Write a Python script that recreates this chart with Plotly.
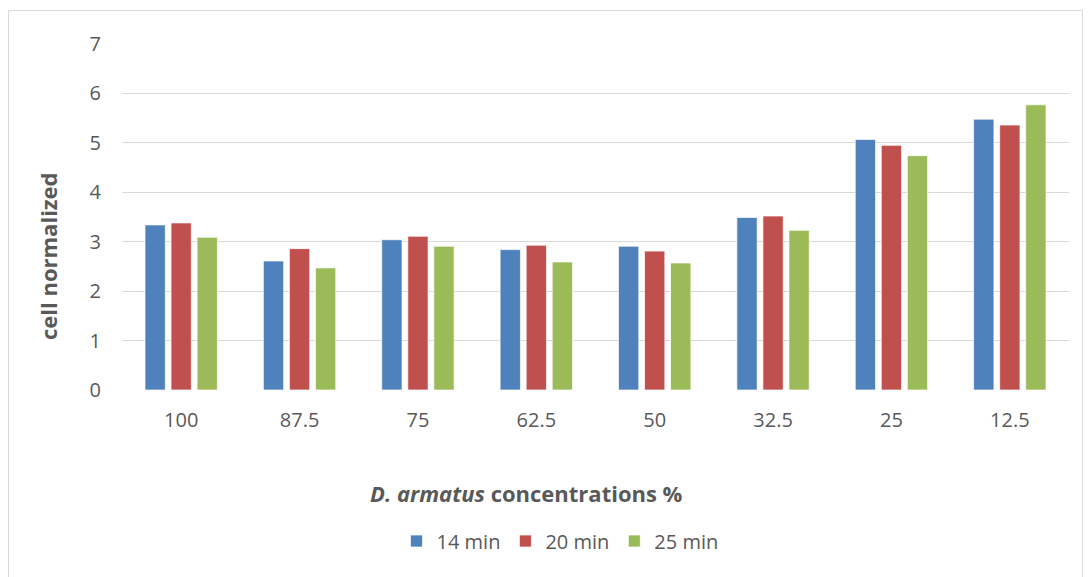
import plotly.graph_objects as go

categories = ["100", "87.5", "75", "62.5", "50", "32.5", "25", "12.5"]
series_names = ["14 min", "20 min", "25 min"]
min14 = [3.34, 2.61, 3.04, 2.84, 2.91, 3.49, 5.07, 5.48]
min20 = [3.38, 2.86, 3.11, 2.93, 2.81, 3.52, 4.95, 5.36]
min25 = [3.09, 2.47, 2.91, 2.59, 2.57, 3.23, 4.74, 5.77]
y_ticks = [0, 1, 2, 3, 4, 5, 6, 7]

colors = ["#4F81BD", "#C0504D", "#9BBB59"]
FONT = "'Open Sans', sans-serif"
TXT = "#595959"

W, H = 1091, 577
L, R, T, B = 122, 1069, 44, 390

fig = go.Figure()
for name, vals, c in zip(series_names, [min14, min20, min25], colors):
    fig.add_trace(go.Bar(
        x=categories, y=vals, name=name,
        marker=dict(color=c, line=dict(color="rgba(255,255,255,0.7)", width=1)),
    ))

def px_x(p):
    return (p - L) / (R - L)

def px_y(p):
    return (B - p) / (B - T)

fig.update_layout(
    width=W, height=H,
    margin=dict(l=L, r=W - R, t=T, b=H - B),
    paper_bgcolor="white", plot_bgcolor="white",
    barmode="group", bargap=0.34, bargroupgap=0.22,
    font=dict(family=FONT, color=TXT, size=20),
    showlegend=True,
    legend=dict(
        orientation="h", x=px_x(560), xanchor="center",
        y=px_y(541), yanchor="middle",
        font=dict(size=20, color=TXT), itemwidth=30,
        traceorder="normal",
    ),
    xaxis=dict(
        type="category", showgrid=False, zeroline=False,
        showline=False, ticks="", tickfont=dict(size=20, color=TXT),
        ticklabelstandoff=16,
    ),
    yaxis=dict(
        range=[0, 7], tickvals=y_ticks, showgrid=True,
        gridcolor="#D9D9D9", gridwidth=1, zeroline=False,
        showline=False, ticks="", tickfont=dict(size=20, color=TXT),
        ticklabelstandoff=20,
    ),
    annotations=[
        dict(
            text="<b><i>D. armatus</i> concentrations %</b>",
            x=px_x(526), y=px_y(493), xref="paper", yref="paper",
            xanchor="center", yanchor="middle", showarrow=False,
            font=dict(size=22, color=TXT, family=FONT),
        ),
        dict(
            text="<b>cell normalized</b>",
            x=px_x(48), y=px_y(256), xref="paper", yref="paper",
            xanchor="center", yanchor="middle", showarrow=False,
            textangle=-90, font=dict(size=22, color=TXT, family=FONT),
        ),
    ],
    shapes=[
        dict(
            type="rect", xref="paper", yref="paper",
            x0=px_x(8.5), x1=px_x(1082.5), y0=px_y(600), y1=px_y(10.5),
            line=dict(color="#D9D9D9", width=1), fillcolor="rgba(0,0,0,0)",
            layer="below",
        )
    ],
)

fig.write_html("out.html")
